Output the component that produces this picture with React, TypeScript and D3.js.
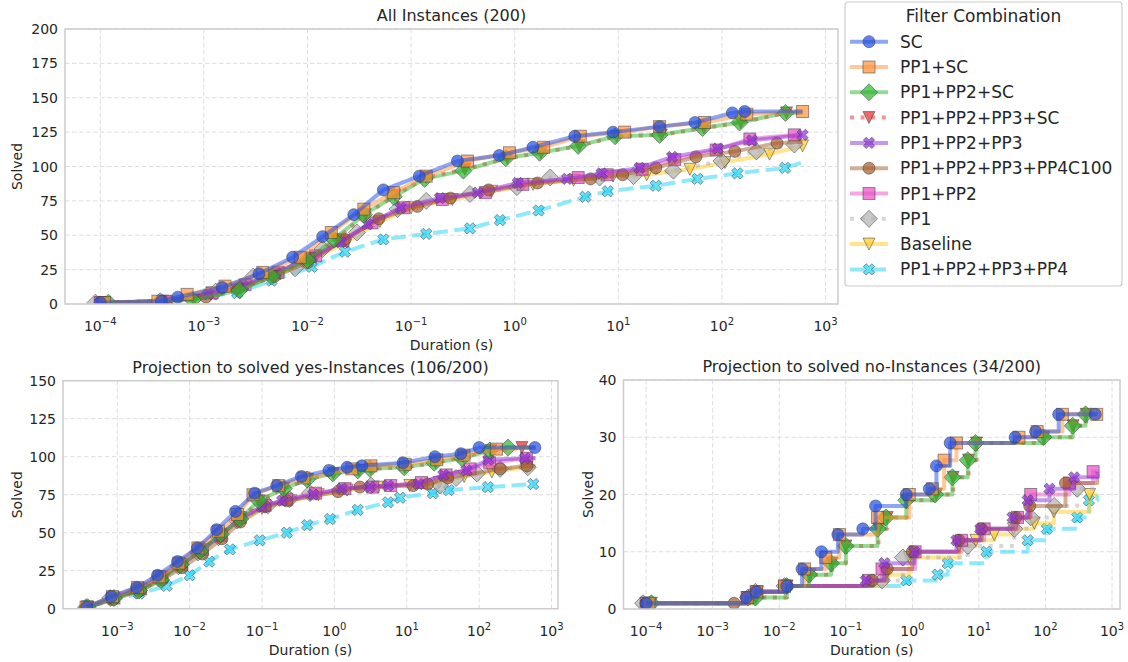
import React from 'react';
import * as d3 from 'd3';

type Pt = [number, number];

const TIMEOUT = 600; // seconds, every line runs on to the time limit

const names = ['SC', 'PP1+SC', 'PP1+PP2+SC', 'PP1+PP2+PP3+SC', 'PP1+PP2+PP3', 'PP1+PP2+PP3+PP4C100', 'PP1+PP2', 'PP1', 'Baseline', 'PP1+PP2+PP3+PP4'];
const colors = ['#1f4ee6', '#ff9236', '#2db52d', '#e42a2a', '#9030dd', '#a65d2c', '#ea4fc4', '#b0b0b0', '#ffcc22', '#22d4f8'];
const markers = ['circle', 'square', 'diamond', 'triangle', 'x', 'circle', 'square', 'diamond', 'triangle', 'x'];
const dashes = ['', '', '', '4,6.6', '', '', '', '4,6.6', '', '14.8,6.4'];

// All Instances (200): [duration s, solved]
const allSC: Pt[] = [[1e-4, 1], [3.9e-4, 2], [5.6e-4, 5], [1.5e-3, 12], [3.4e-3, 22], [7.2e-3, 34], [0.014, 49], [0.028, 65], [0.054, 83], [0.12, 93], [0.28, 104], [0.71, 108], [1.5, 114], [3.8, 122], [8.9, 125], [25, 129], [55, 132], [126, 139], [166, 140]];
const allPP1SC: Pt[] = [[1.1e-4, 1], [3.6e-4, 2], [6.9e-4, 7], [1.6e-3, 13], [3.7e-3, 23], [8.5e-3, 34], [0.017, 52], [0.035, 69], [0.068, 81], [0.14, 93], [0.35, 104], [0.89, 110], [1.9, 114], [4.3, 122], [11.5, 125], [25, 129], [68, 132], [174, 138], [600, 140]];
const allPP1PP2SC: Pt[] = [[1.2e-4, 1], [7.8e-4, 3], [2.2e-3, 10], [4.5e-3, 20], [0.01, 32], [0.018, 47], [0.035, 65], [0.068, 78], [0.135, 91], [0.32, 97], [0.82, 106], [1.74, 110], [4.1, 115], [9.3, 122], [25, 123], [65, 128], [148, 132], [410, 139]];
const allPP1PP2PP3SC: Pt[] = [[1.1e-4, 1], [8e-4, 3], [2.1e-3, 10], [4.6e-3, 20], [0.0105, 33], [0.019, 47], [0.036, 65], [0.07, 79], [0.14, 92], [0.33, 98], [0.85, 106], [1.8, 110], [4.2, 115], [9.6, 122], [26, 123], [67, 128], [152, 132], [420, 139]];
const allPP1PP2PP3: Pt[] = [[1e-4, 1], [4.5e-4, 2], [1.1e-3, 7], [2.4e-3, 13], [4.9e-3, 23], [0.011, 34], [0.021, 45], [0.038, 58], [0.079, 70], [0.19, 77], [0.44, 81], [1.07, 88], [3.2, 91], [6.9, 95], [16, 99], [33, 107], [91, 113], [195, 119], [600, 123]];
const allPP4C100: Pt[] = [[1.1e-4, 1], [4e-4, 2], [1.05e-3, 5], [2.2e-3, 12], [4.8e-3, 20], [0.01, 30], [0.023, 47], [0.049, 62], [0.115, 71], [0.24, 77], [0.56, 83], [1.66, 88], [5.4, 91], [11, 94], [23, 99], [56, 107], [133, 111], [340, 117]];
const allPP1PP2: Pt[] = [[1e-4, 1], [4.3e-4, 2], [1.2e-3, 8], [2.5e-3, 14], [5.2e-3, 23], [0.012, 35], [0.022, 46], [0.042, 59], [0.085, 70], [0.2, 76], [0.52, 81], [1.2, 87], [4.1, 92], [7.8, 94], [17, 98], [35, 105], [88, 112], [186, 120], [500, 123]];
const allPP1: Pt[] = [[9e-5, 1], [3.8e-4, 2], [1.3e-3, 9], [3e-3, 20], [7.6e-3, 26], [0.014, 40], [0.03, 52], [0.074, 69], [0.14, 75], [0.37, 80], [1.05, 85], [2.2, 92], [6.6, 92], [14, 93], [34, 97], [99, 104], [215, 111], [500, 116]];
const allBaseline: Pt[] = [[1e-4, 1], [4e-4, 2], [1.2e-3, 8], [2.6e-3, 14], [5.5e-3, 22], [0.012, 34], [0.024, 45], [0.05, 60], [0.1, 70], [0.25, 76], [0.6, 82], [1.5, 87], [3.7, 90], [8.9, 93], [18.8, 94], [49, 98], [107, 103], [288, 109], [600, 115]];
const allPP4: Pt[] = [[1.1e-4, 1], [4e-4, 2], [2.1e-3, 8], [4.5e-3, 17], [0.011, 27], [0.023, 38], [0.054, 47], [0.14, 51], [0.37, 55], [0.72, 61], [1.7, 68], [4.8, 78], [7.9, 82], [23, 86], [58, 91], [141, 95], [407, 99]];
const allEnd = [140, 140, 139, 139, 123, 118, 123, 117, 115, 103];

// Projection to solved yes-Instances (106/200)
const yesSC: Pt[] = [[3.8e-4, 1], [8.3e-4, 8], [1.85e-3, 14], [3.6e-3, 22], [6.8e-3, 31], [0.0128, 40], [0.0236, 52], [0.043, 64], [0.079, 76], [0.16, 81], [0.35, 87], [0.84, 91], [1.5, 93], [2.4, 94], [8.9, 96], [24.5, 100], [56, 102], [100, 106], [590, 106]];
const yesPP1SC: Pt[] = [[3.7e-4, 1], [8.6e-4, 8], [1.9e-3, 14], [3.8e-3, 21], [7.1e-3, 30], [0.013, 40], [0.025, 51], [0.046, 62], [0.075, 75], [0.17, 81], [0.38, 86], [1.74, 92], [3.2, 94], [9.5, 95], [26, 98], [62, 101], [174, 105]];
const yesPP1PP2SC: Pt[] = [[3.9e-4, 1], [9e-4, 7], [2e-3, 12], [4e-3, 19], [7.5e-3, 29], [0.014, 38], [0.027, 49], [0.05, 59], [0.09, 71], [0.2, 79], [0.42, 85], [0.95, 89], [2.1, 91], [3.1, 92], [9.2, 93], [24, 96], [58, 99], [140, 104], [250, 106]];
const yesPP1PP2PP3SC: Pt[] = [[3.9e-4, 1], [9e-4, 7], [2e-3, 12], [4e-3, 19], [7.6e-3, 29], [0.0142, 38], [0.027, 49], [0.051, 59], [0.092, 71], [0.2, 79], [0.43, 85], [0.97, 89], [2.2, 91], [3.2, 92], [9.4, 93], [25, 96], [60, 100], [145, 104], [390, 106]];
const yesPP1PP2PP3: Pt[] = [[3.9e-4, 1], [8.7e-4, 7], [2e-3, 13], [4e-3, 21], [7.5e-3, 29], [0.014, 38], [0.026, 48], [0.048, 59], [0.1, 67], [0.19, 71], [0.51, 75], [1.26, 79], [3.1, 80], [5.5, 81], [14.5, 82], [32, 88], [67, 91], [134, 98], [430, 99]];
const yesPP4C100: Pt[] = [[3.8e-4, 1], [8.8e-4, 6], [2.1e-3, 12], [4.2e-3, 19], [7.8e-3, 27], [0.015, 36], [0.028, 46], [0.05, 57], [0.11, 67], [0.22, 71], [1.12, 77], [2.25, 80], [12.3, 81], [19.5, 82], [37, 86], [195, 92], [460, 94]];
const yesPP1PP2: Pt[] = [[3.9e-4, 1], [9e-4, 7], [2.1e-3, 13], [4.1e-3, 21], [7.8e-3, 29], [0.015, 39], [0.027, 48], [0.05, 60], [0.11, 68], [0.22, 72], [0.55, 76], [1.4, 79], [3.4, 80], [6, 81], [16, 83], [35, 88], [75, 92], [140, 96], [450, 99]];
const yesPP1: Pt[] = [[3.7e-4, 1], [8e-4, 7], [1.9e-3, 12], [3.7e-3, 20], [7e-3, 28], [0.013, 37], [0.025, 47], [0.045, 58], [0.12, 68], [0.24, 72], [0.46, 76], [3.2, 81], [29, 81], [48, 86], [93, 89], [195, 92], [470, 93]];
const yesBaseline: Pt[] = [[3.8e-4, 1], [8.6e-4, 7], [2e-3, 13], [4e-3, 20], [7.5e-3, 29], [0.014, 38], [0.026, 48], [0.048, 58], [0.1, 66], [0.25, 71], [0.6, 75], [1.5, 78], [4, 80], [11, 81], [28, 83], [62, 87], [150, 90], [460, 93]];
const yesPP4: Pt[] = [[3.9e-4, 1], [2e-3, 10], [4.8e-3, 15], [0.01, 22], [0.0186, 31], [0.036, 39], [0.093, 45], [0.22, 50], [0.42, 55], [0.87, 59], [2.1, 65], [5.5, 70], [8.1, 73], [23, 76], [38, 78], [132, 80], [560, 82]];
const yesEnd = [106, 106, 106, 106, 99, 94, 99, 94, 93, 82];

// Projection to solved no-Instances (34/200)
const noSC: Pt[] = [[1e-4, 1], [3.2e-3, 2], [4.5e-3, 3], [0.013, 4], [0.022, 7], [0.043, 10], [0.076, 13], [0.18, 14], [0.28, 18], [0.81, 20], [1.8, 21], [2.3, 25], [3.7, 29], [35, 30], [71, 31], [158, 34], [560, 34]];
const noPP1SC: Pt[] = [[1.1e-4, 1], [3.3e-3, 2], [4.6e-3, 3], [0.012, 4], [0.024, 7], [0.05, 9], [0.08, 13], [0.3, 16], [0.9, 20], [2, 21], [3, 26], [4.6, 29], [40, 30], [75, 31], [180, 34], [590, 34]];
const noPP1PP2SC: Pt[] = [[1.2e-4, 1], [4.4e-3, 2], [0.013, 4], [0.028, 6], [0.06, 8], [0.1, 11], [0.3, 14], [0.4, 16], [0.81, 19], [2.2, 20], [4, 23], [6.8, 26], [8.9, 29], [93, 30], [257, 32], [400, 34]];
const noPP1PP2PP3SC: Pt[] = [[1.2e-4, 1], [4.5e-3, 2], [0.013, 4], [0.029, 6], [0.062, 8], [0.1, 11], [0.31, 14], [0.42, 16], [0.83, 19], [2.3, 20], [4.1, 23], [7, 26], [9.2, 29], [95, 30], [260, 32], [410, 34]];
const noPP1PP2PP3: Pt[] = [[1e-4, 1], [3.5e-3, 2], [4.6e-3, 3], [0.013, 4], [0.2, 5], [0.38, 8], [1.07, 10], [4.6, 12], [10.5, 14], [32, 16], [54, 19], [115, 21], [270, 23]];
const noPP4C100: Pt[] = [[1e-4, 1], [2.1e-3, 1], [3.3e-3, 2], [4.7e-3, 3], [0.013, 4], [0.25, 5], [0.42, 7], [1, 10], [5, 12], [11, 14], [36, 16], [58, 18], [200, 22]];
const noPP1PP2: Pt[] = [[1e-4, 1], [3.4e-3, 2], [4.5e-3, 3], [0.012, 4], [0.22, 5], [0.35, 7], [1.1, 10], [5.5, 12], [12, 14], [38, 16], [60, 20], [230, 22], [520, 24]];
const noPP1: Pt[] = [[9e-5, 1], [3.4e-3, 2], [4.4e-3, 3], [0.012, 4], [0.35, 5], [0.72, 9], [6.8, 11], [34, 14], [60, 16], [135, 18], [300, 21]];
const noBaseline: Pt[] = [[1e-4, 1], [3.3e-3, 2], [4.7e-3, 3], [0.013, 4], [0.4, 6], [0.9, 9], [5, 11], [9, 12], [17, 13], [33, 14], [68, 15], [134, 17], [460, 20]];
const noPP4: Pt[] = [[1.1e-4, 1], [3.4e-3, 2], [4.6e-3, 3], [0.013, 4], [0.81, 5], [2.4, 6], [3.4, 8], [13, 10], [54, 12], [105, 14], [300, 16], [450, 19]];
const noEnd = [34, 34, 34, 34, 24, 23, 24, 21, 20, 20];

const allSeries = [allSC, allPP1SC, allPP1PP2SC, allPP1PP2PP3SC, allPP1PP2PP3, allPP4C100, allPP1PP2, allPP1, allBaseline, allPP4];
const yesSeries = [yesSC, yesPP1SC, yesPP1PP2SC, yesPP1PP2PP3SC, yesPP1PP2PP3, yesPP4C100, yesPP1PP2, yesPP1, yesBaseline, yesPP4];
const noSeries = [noSC, noPP1SC, noPP1PP2SC, noPP1PP2PP3SC, noPP1PP2PP3, noPP4C100, noPP1PP2, noPP1, noBaseline, noPP4];

const FONT = "'DejaVu Sans', Verdana, sans-serif";
const INK = '#262626';

// matplotlib's filled 'X': the filled plus turned by 45 degrees
const plusPts = [[-1, -3], [1, -3], [1, -1], [3, -1], [3, 1], [1, 1], [1, 3], [-1, 3], [-1, 1], [-3, 1], [-3, -1], [-1, -1]];
const xPath = 'M' + plusPts.map(([a, b]) => `${((a - b) * 2 / Math.SQRT2).toFixed(2)},${((a + b) * 2 / Math.SQRT2).toFixed(2)}`).join('L') + 'Z';

function Marker({ kind, cx, cy, color }: { kind: string; cx: number; cy: number; color: string }) {
  const st = { fill: color, fillOpacity: 0.7, stroke: '#444', strokeOpacity: 0.55, strokeWidth: 1 };
  if (kind === 'circle') return <circle cx={cx} cy={cy} r={6} {...st} />;
  if (kind === 'square') return <rect x={cx - 6} y={cy - 6} width={12} height={12} {...st} />;
  const d = kind === 'diamond' ? 'M0,-8.5L8.5,0L0,8.5L-8.5,0Z' : kind === 'triangle' ? 'M-6,-6L6,-6L0,6Z' : xPath;
  return <path d={d} transform={`translate(${cx},${cy})`} {...st} />;
}

function Pow10({ x, y, e }: { x: number; y: number; e: number }) {
  return (
    <text x={x} y={y} textAnchor="middle" fontSize={14} fill={INK}>
      10<tspan dy={-6} fontSize={10}>{e < 0 ? '\u2212' + Math.abs(e) : e}</tspan>
    </text>
  );
}

type PanelProps = {
  id: string; x0: number; x1: number; y0: number; y1: number;
  xLo: number; xHi: number; yMax: number; yStep: number; exps: number[];
  data: Pt[][]; ends: number[]; step: boolean; title: string; ylabX: number;
};

function Panel(p: PanelProps) {
  const x = d3.scaleLog().domain([p.xLo, p.xHi]).range([p.x0, p.x1]);
  const y = d3.scaleLinear().domain([0, p.yMax]).range([p.y1, p.y0]);
  const line = d3.line<Pt>().x(d => x(d[0])).y(d => y(d[1])).curve(p.step ? d3.curveStepAfter : d3.curveLinear);
  const yTicks = d3.range(0, p.yMax + 0.001, p.yStep);
  const order = d3.range(p.data.length).reverse();
  const cx = (p.x0 + p.x1) / 2;
  const cy = (p.y0 + p.y1) / 2;
  return (
    <g>
      <defs>
        <clipPath id={p.id}><rect x={p.x0} y={p.y0} width={p.x1 - p.x0} height={p.y1 - p.y0} /></clipPath>
      </defs>
      {p.exps.map(e => (
        <line key={'gx' + e} x1={x(Math.pow(10, e))} x2={x(Math.pow(10, e))} y1={p.y0} y2={p.y1} stroke="#dedede" strokeWidth={1} strokeDasharray="4.5,2.5" />
      ))}
      {yTicks.map(t => (
        <line key={'gy' + t} x1={p.x0} x2={p.x1} y1={y(t)} y2={y(t)} stroke="#dedede" strokeWidth={1} strokeDasharray="4.5,2.5" />
      ))}
      <g clipPath={`url(#${p.id})`}>
        {order.map(i => {
          const pts = p.data[i];
          const last = pts[pts.length - 1];
          const path: Pt[] = last[0] < TIMEOUT ? [...pts, [TIMEOUT, p.ends[i]]] : pts;
          return (
            <g key={i}>
              <path d={line(path) || ''} fill="none" stroke={colors[i]} strokeOpacity={0.5} strokeWidth={4}
                strokeLinejoin="round" strokeDasharray={dashes[i] || undefined} />
              {pts.map((d, j) => <Marker key={j} kind={markers[i]} cx={x(d[0])} cy={y(d[1])} color={colors[i]} />)}
            </g>
          );
        })}
      </g>
      <rect x={p.x0} y={p.y0} width={p.x1 - p.x0} height={p.y1 - p.y0} fill="none" stroke="#cccccc" strokeWidth={1.5} />
      {yTicks.map(t => (
        <text key={'ty' + t} x={p.x0 - 7} y={y(t)} textAnchor="end" dominantBaseline="central" fontSize={14} fill={INK}>{t}</text>
      ))}
      {p.exps.map(e => <Pow10 key={'tx' + e} x={x(Math.pow(10, e))} y={p.y1 + 27} e={e} />)}
      <text x={cx} y={p.y1 + 46} textAnchor="middle" fontSize={14} fill={INK}>Duration (s)</text>
      <text transform={`translate(${p.ylabX},${cy}) rotate(-90)`} textAnchor="middle" dominantBaseline="central" fontSize={14} fill={INK}>Solved</text>
      <text x={cx} y={p.y0 - 8} textAnchor="middle" fontSize={16} fill={INK}>{p.title}</text>
    </g>
  );
}

function Legend() {
  const lx = 845, ly = 2, w = 277, h = 284;
  return (
    <g>
      <rect x={lx} y={ly} width={w} height={h} rx={3} fill="#fff" fillOpacity={0.85} stroke="#cccccc" strokeWidth={1.2} />
      <text x={lx + w / 2} y={16} textAnchor="middle" dominantBaseline="central" fontSize={17} fill={INK}>Filter Combination</text>
      {names.map((n, i) => {
        const yy = 41.7 + i * 25.3;
        return (
          <g key={n}>
            <line x1={850} x2={888} y1={yy} y2={yy} stroke={colors[i]} strokeOpacity={0.5} strokeWidth={4} strokeDasharray={dashes[i] || undefined} />
            <Marker kind={markers[i]} cx={869} cy={yy} color={colors[i]} />
            <text x={900} y={yy} dominantBaseline="central" fontSize={17} fill={INK}>{n}</text>
          </g>
        );
      })}
    </g>
  );
}

export default function App() {
  return (
    <svg width={1128} height={662} viewBox="0 0 1128 662" fontFamily={FONT}
      style={{ position: 'absolute', left: 0, top: 0, display: 'block', background: '#fff' }}>
      <rect width={1128} height={662} fill="#fff" />
      <Panel id="cpAll" x0={65} x1={838} y0={29} y1={304} xLo={Math.pow(10, -4.34)} xHi={Math.pow(10, 3.12)}
        yMax={200} yStep={25} exps={[-4, -3, -2, -1, 0, 1, 2, 3]} data={allSeries} ends={allEnd} step={false}
        title="All Instances (200)" ylabX={17} />
      <Panel id="cpYes" x0={63} x1={558} y0={380.7} y1={608.7} xLo={Math.pow(10, -3.75)} xHi={Math.pow(10, 3.09)}
        yMax={150} yStep={25} exps={[-3, -2, -1, 0, 1, 2, 3]} data={yesSeries} ends={yesEnd} step={false}
        title="Projection to solved yes-Instances (106/200)" ylabX={17} />
      <Panel id="cpNo" x0={623.5} x1={1120} y0={380} y1={609} xLo={Math.pow(10, -4.34)} xHi={Math.pow(10, 3.12)}
        yMax={40} yStep={10} exps={[-4, -3, -2, -1, 0, 1, 2, 3]} data={noSeries} ends={noEnd} step={true}
        title="Projection to solved no-Instances (34/200)" ylabX={588} />
      <Legend />
    </svg>
  );
}
